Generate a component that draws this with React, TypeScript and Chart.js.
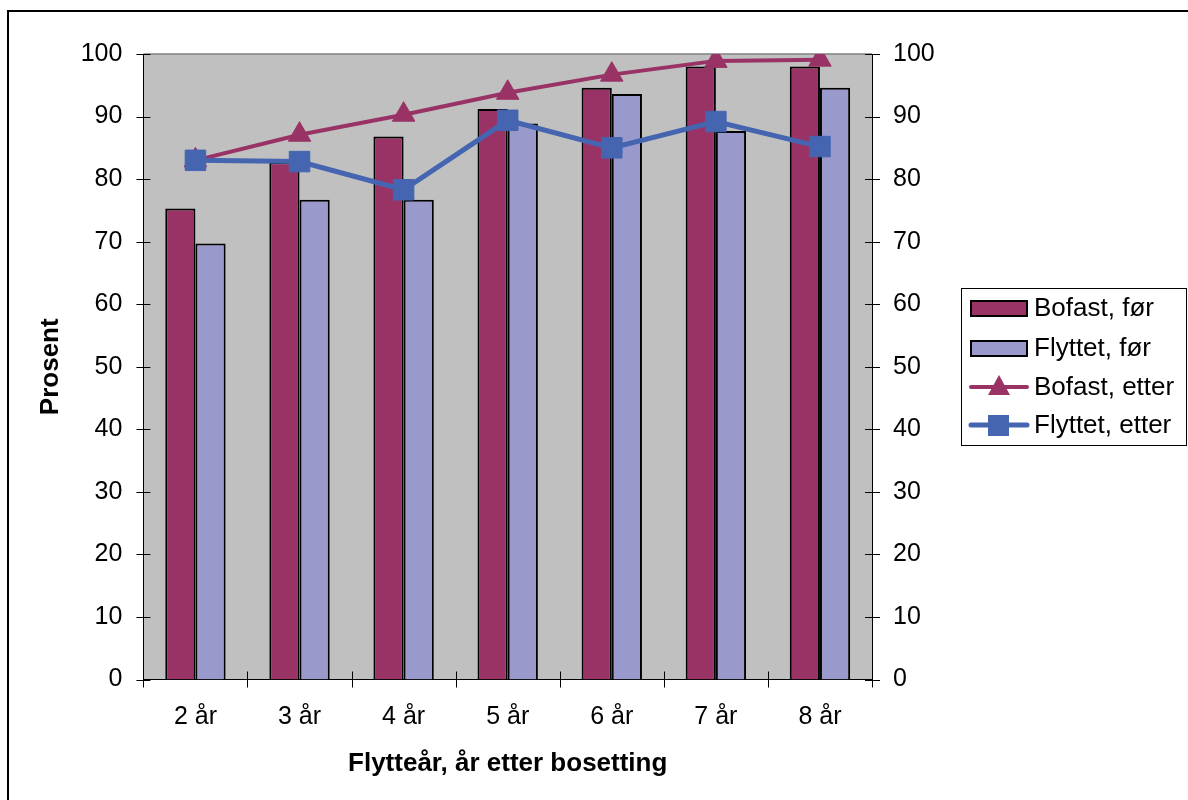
import React, { useEffect, useRef } from 'react';
import { Chart, registerables } from 'chart.js';

Chart.register(...registerables);

const FONT = '"Liberation Sans", Arial, sans-serif';

const categories = ['2 år', '3 år', '4 år', '5 år', '6 år', '7 år', '8 år'];
const bofastFor = [75.3, 82.7, 86.8, 91.2, 94.6, 98.0, 98.0];
const flyttetFor = [69.7, 76.7, 76.7, 88.9, 93.6, 87.7, 94.6];
const bofastEtter = [83.0, 87.1, 90.3, 93.8, 96.7, 98.9, 99.1];
const flyttetEtter = [83.0, 82.8, 78.3, 89.4, 85.0, 89.2, 85.2];
const seriesLabels = ['Bofast, før', 'Flyttet, før', 'Bofast, etter', 'Flyttet, etter'];
const xTitle = 'Flytteår, år etter bosetting';
const yTitle = 'Prosent';
const yMin = 0;
const yMax = 100;
const yStep = 10;

const C_BOFAST = '#993366';
const C_FLYTTET_BAR = '#9999CC';
const C_FLYTTET_LINE = '#4565B0';
const PLOT_BG = '#C0C0C0';

const decorPlugin = {
  id: 'decor',
  beforeDraw(chart: any) {
    const { ctx, chartArea: a, width, height } = chart;
    ctx.save();
    ctx.fillStyle = '#fff';
    ctx.fillRect(0, 0, width, height);
    ctx.strokeStyle = '#000';
    ctx.lineWidth = 2;
    ctx.strokeRect(8, 11, width + 100, height + 100);
    ctx.fillStyle = PLOT_BG;
    ctx.fillRect(a.left, a.top, a.right - a.left, a.bottom - a.top);
    ctx.strokeStyle = '#808080';
    ctx.lineWidth = 1.5;
    ctx.beginPath();
    ctx.moveTo(a.left, a.top);
    ctx.lineTo(a.right, a.top);
    ctx.stroke();
    ctx.restore();
  },
  afterDraw(chart: any) {
    const { ctx, chartArea: a, scales } = chart;
    ctx.save();
    ctx.strokeStyle = '#000';
    ctx.lineWidth = 1;
    const ys = scales.y;
    for (let v = yMin; v <= yMax; v += yStep) {
      const py = Math.round(ys.getPixelForValue(v)) + 0.5;
      ctx.beginPath();
      ctx.moveTo(a.left - 7, py);
      ctx.lineTo(a.left + 7, py);
      ctx.moveTo(a.right - 7, py);
      ctx.lineTo(a.right + 8, py);
      ctx.stroke();
    }
    const n = categories.length;
    const w = (a.right - a.left) / n;
    for (let i = 0; i <= n; i++) {
      const px = Math.round(a.left + i * w) + 0.5;
      ctx.beginPath();
      ctx.moveTo(px, a.bottom - 8);
      ctx.lineTo(px, a.bottom + 8);
      ctx.stroke();
    }

    // Legend
    const lx = 961.5, ly = 288.5, lw = 225, lh = 157;
    ctx.fillStyle = '#fff';
    ctx.fillRect(lx, ly, lw, lh);
    ctx.strokeStyle = '#000';
    ctx.lineWidth = 1;
    ctx.strokeRect(lx, ly, lw, lh);
    const rows = [308, 348, 387, 425];
    const ds = chart.data.datasets;
    ctx.font = `26px ${FONT}`;
    ctx.textBaseline = 'middle';
    ctx.textAlign = 'left';
    rows.forEach((ry: number, i: number) => {
      const d = ds[i];
      if (d.type === 'bar') {
        ctx.fillStyle = d.backgroundColor;
        ctx.fillRect(971, ry - 7, 56, 15);
        ctx.strokeStyle = '#000';
        ctx.lineWidth = 2;
        ctx.strokeRect(971, ry - 7, 56, 15);
      } else {
        ctx.strokeStyle = d.borderColor;
        ctx.lineWidth = d.borderWidth;
        ctx.lineCap = 'round';
        ctx.beginPath();
        ctx.moveTo(971, ry);
        ctx.lineTo(1027, ry);
        ctx.stroke();
        ctx.fillStyle = d.pointBackgroundColor;
        if (d.pointStyle === 'triangle') {
          ctx.beginPath();
          ctx.moveTo(999, ry - 12);
          ctx.lineTo(1010, ry + 8);
          ctx.lineTo(988, ry + 8);
          ctx.closePath();
          ctx.fill();
        } else {
          ctx.fillRect(988, ry - 10, 21, 21);
        }
      }
      ctx.fillStyle = '#000';
      ctx.fillText(d.label, 1034, ry + 1);
    });
    ctx.restore();
  },
};

export default function App() {
  const ref = useRef<HTMLCanvasElement | null>(null);

  useEffect(() => {
    if (!ref.current) return;
    const tickFont = { family: FONT, size: 25 };
    const titleFont = { family: FONT, size: 26, weight: 'bold' as const };
    const chart = new Chart(ref.current, {
      type: 'bar',
      data: {
        labels: categories,
        datasets: [
          {
            type: 'bar',
            label: seriesLabels[0],
            data: bofastFor,
            backgroundColor: C_BOFAST,
            borderColor: '#000',
            borderWidth: 2,
            barPercentage: 1,
            categoryPercentage: 0.58,
            order: 2,
          },
          {
            type: 'bar',
            label: seriesLabels[1],
            data: flyttetFor,
            backgroundColor: C_FLYTTET_BAR,
            borderColor: '#000',
            borderWidth: 2,
            barPercentage: 1,
            categoryPercentage: 0.58,
            order: 2,
          },
          {
            type: 'line',
            label: seriesLabels[2],
            data: bofastEtter,
            borderColor: C_BOFAST,
            borderWidth: 4,
            pointStyle: 'triangle',
            pointRadius: 13,
            pointBackgroundColor: C_BOFAST,
            pointBorderColor: C_BOFAST,
            pointBorderWidth: 1,
            tension: 0,
            order: 1,
          },
          {
            type: 'line',
            label: seriesLabels[3],
            data: flyttetEtter,
            borderColor: C_FLYTTET_LINE,
            borderWidth: 5,
            pointStyle: 'rect',
            pointRadius: 14.5,
            pointBackgroundColor: C_FLYTTET_LINE,
            pointBorderColor: C_FLYTTET_LINE,
            pointBorderWidth: 1,
            tension: 0,
            order: 0,
          },
        ] as any,
      },
      options: {
        responsive: false,
        animation: false,
        layout: { padding: { top: 54, left: 0, right: 0, bottom: 0 } },
        plugins: {
          legend: { display: false },
          tooltip: { enabled: false },
        },
        scales: {
          x: {
            offset: true,
            grid: { display: false, drawTicks: false },
            border: { display: true, color: '#000', width: 1 },
            ticks: { color: '#000', font: tickFont, padding: 23, maxRotation: 0, autoSkip: false },
            title: {
              display: true,
              text: xTitle,
              color: '#000',
              font: titleFont,
              padding: { top: 0, bottom: 21 },
            },
            afterFit: (s: any) => {
              s.height = 120.5;
            },
          },
          y: {
            position: 'left',
            min: yMin,
            max: yMax,
            grid: { display: false, drawTicks: false },
            border: { display: true, color: '#000', width: 1 },
            ticks: { color: '#000', font: tickFont, padding: 21, stepSize: yStep },
            title: {
              display: true,
              text: yTitle,
              color: '#000',
              font: titleFont,
              padding: { top: 35, bottom: 0 },
            },
            afterFit: (s: any) => {
              s.width = 143.4;
            },
          },
          y2: {
            position: 'right',
            min: yMin,
            max: yMax,
            grid: { display: false, drawTicks: false },
            border: { display: true, color: '#000', width: 1 },
            ticks: { color: '#000', font: tickFont, padding: 21, stepSize: yStep },
            afterFit: (s: any) => {
              s.width = 316;
            },
          },
        },
      } as any,
      plugins: [decorPlugin],
    });
    return () => chart.destroy();
  }, []);

  return (
    <div style={{ position: 'fixed', left: 0, top: 0, width: 1188, height: 800, background: '#fff' }}>
      <canvas ref={ref} width={1188} height={800} style={{ width: 1188, height: 800, display: 'block' }} />
    </div>
  );
}
